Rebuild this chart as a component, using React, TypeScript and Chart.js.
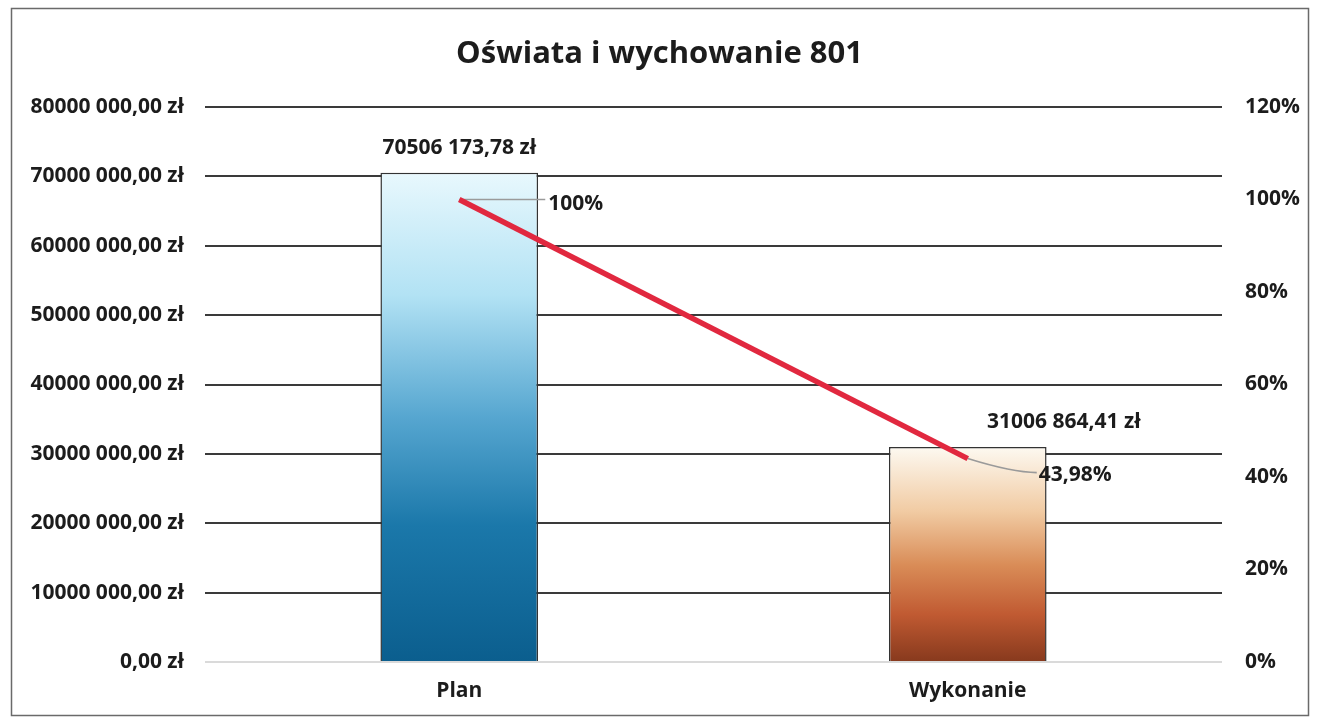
import React, { useEffect, useRef } from 'react';
import { Chart, registerables } from 'chart.js';

Chart.register(...registerables);

const chartTitle = 'Oświata i wychowanie 801';
const categories = ['Plan', 'Wykonanie'];
const amounts = [70506173.78, 31006864.41];
const percents = [100, 43.98];
const amountTicksMax = 80000000;
const amountTickStep = 10000000;
const percentTicksMax = 120;
const percentTickStep = 20;

const FONT = '"Open Sans"';
const TEXT = '#1c1c1c';
const LABEL_SIZE = 21;

const gradientStops: [number, string][][] = [
  [
    [0, '#e8f8fd'],
    [0.25, '#b2e2f4'],
    [0.5, '#56a6d0'],
    [0.72, '#1b78aa'],
    [1, '#0b5e8e'],
  ],
  [
    [0, '#fdf9f1'],
    [0.3, '#f1cba3'],
    [0.55, '#d98c57'],
    [0.78, '#c05a32'],
    [1, '#87391d'],
  ],
];

function formatZl(v: number): string {
  const cents = Math.round(v * 100);
  const intPart = Math.floor(cents / 100);
  const frac = String(cents % 100).padStart(2, '0');
  let s: string;
  if (intPart >= 1000) {
    s = `${Math.floor(intPart / 1000)} ${String(intPart % 1000).padStart(3, '0')}`;
  } else {
    s = String(intPart);
  }
  return `${s},${frac} zł`;
}

function formatPct(v: number): string {
  const s = Number.isInteger(v) ? String(v) : v.toFixed(2).replace('.', ',');
  return `${s}%`;
}

const overlay = {
  id: 'overlay',
  beforeDraw(chart: any) {
    const ctx = chart.ctx;
    ctx.save();
    ctx.fillStyle = '#ffffff';
    ctx.fillRect(0, 0, chart.width, chart.height);
    ctx.restore();
  },
  afterDatasetDraw(chart: any, args: any) {
    if (args.meta.type !== 'bar') return;
    const lineMeta = chart.getDatasetMeta(1);
    const ctx = chart.ctx;
    ctx.save();
    ctx.strokeStyle = '#9a9a9a';
    ctx.lineWidth = 1.6;
    const p0 = lineMeta.data[0];
    if (p0) {
      ctx.beginPath();
      ctx.moveTo(p0.x, p0.y);
      ctx.lineTo(p0.x + 86, p0.y);
      ctx.stroke();
    }
    const p1 = lineMeta.data[1];
    if (p1) {
      ctx.beginPath();
      ctx.moveTo(p1.x, p1.y);
      ctx.quadraticCurveTo(p1.x + 45, p1.y + 14, p1.x + 69, p1.y + 14);
      ctx.stroke();
    }
    ctx.restore();
  },
  afterDatasetsDraw(chart: any) {
    const ctx = chart.ctx;
    const barMeta = chart.getDatasetMeta(0);
    const lineMeta = chart.getDatasetMeta(1);
    ctx.save();
    ctx.fillStyle = TEXT;
    ctx.font = `bold ${LABEL_SIZE}px ${FONT}`;
    ctx.textBaseline = 'middle';
    ctx.textAlign = 'center';
    const amountOffsets = [0, 96];
    barMeta.data.forEach((bar: any, i: number) => {
      ctx.fillText(formatZl(amounts[i]), bar.x + amountOffsets[i], bar.y - 25);
    });
    ctx.textAlign = 'left';
    const pctOffsets = [
      [89, 5],
      [71, 16],
    ];
    lineMeta.data.forEach((pt: any, i: number) => {
      ctx.fillText(formatPct(percents[i]), pt.x + pctOffsets[i][0], pt.y + pctOffsets[i][1]);
    });
    ctx.restore();
  },
  afterDraw(chart: any) {
    const ctx = chart.ctx;
    ctx.save();
    ctx.fillStyle = TEXT;
    ctx.font = `bold 31px ${FONT}`;
    ctx.textAlign = 'center';
    ctx.textBaseline = 'middle';
    ctx.fillText(chartTitle, chart.width / 2, 54);
    ctx.strokeStyle = '#6a6a6a';
    ctx.lineWidth = 1.5;
    ctx.strokeRect(11.5, 8.5, 1297, 707);
    ctx.restore();
  },
};

export default function App() {
  const ref = useRef<HTMLCanvasElement | null>(null);

  useEffect(() => {
    if (!ref.current) return;
    const chart = new Chart(ref.current, {
      type: 'bar',
      data: {
        labels: categories,
        datasets: [
          {
            type: 'bar',
            data: amounts,
            yAxisID: 'y',
            order: 1,
            barPercentage: 0.31,
            categoryPercentage: 1,
            borderColor: '#333333',
            borderWidth: 1.5,
            backgroundColor: (c: any) => {
              const stops = gradientStops[c.dataIndex] || gradientStops[0];
              const chartObj = c.chart;
              const area = chartObj.chartArea;
              if (!area || c.type !== 'data' || !chartObj.scales.y) return stops[2][1];
              const top = chartObj.scales.y.getPixelForValue(amounts[c.dataIndex]);
              const g = chartObj.ctx.createLinearGradient(0, top, 0, area.bottom);
              stops.forEach(([o, col]) => g.addColorStop(o, col));
              return g;
            },
          } as any,
          {
            type: 'line',
            data: percents,
            yAxisID: 'y1',
            order: 0,
            borderColor: '#e1283f',
            borderWidth: 5.5,
            pointRadius: 0,
            pointHoverRadius: 0,
            fill: false,
            tension: 0,
          } as any,
        ],
      },
      options: {
        animation: false,
        responsive: false,
        maintainAspectRatio: false,
        layout: { padding: { top: 107, left: 0, right: 0, bottom: 0 } },
        plugins: {
          legend: { display: false },
          title: { display: false },
          tooltip: { enabled: false },
        },
        scales: {
          x: {
            grid: { display: false, drawTicks: false },
            border: { display: false },
            ticks: {
              color: TEXT,
              font: { family: FONT, weight: 'bold', size: LABEL_SIZE },
              padding: 16,
            },
            afterFit: (s: any) => {
              s.height = 59;
            },
          },
          y: {
            position: 'left',
            min: 0,
            max: amountTicksMax,
            grid: {
              drawTicks: false,
              color: (c: any) => (c.tick && c.tick.value === 0 ? '#dadada' : '#3a3a3a'),
              lineWidth: 2,
            },
            border: { display: false },
            ticks: {
              stepSize: amountTickStep,
              color: TEXT,
              font: { family: FONT, weight: 'bold', size: LABEL_SIZE },
              padding: 21,
              callback: (v: any) => formatZl(Number(v)),
            },
            afterFit: (s: any) => {
              s.width = 205;
            },
          },
          y1: {
            position: 'right',
            min: 0,
            max: percentTicksMax,
            grid: { display: false, drawTicks: false },
            border: { display: false },
            ticks: {
              stepSize: percentTickStep,
              color: TEXT,
              font: { family: FONT, weight: 'bold', size: LABEL_SIZE },
              padding: 23,
              callback: (v: any) => `${v}%`,
            },
            afterFit: (s: any) => {
              s.width = 97;
            },
          },
        },
      },
      plugins: [overlay],
    } as any);
    return () => chart.destroy();
  }, []);

  return (
    <div style={{ position: 'absolute', left: 0, top: 0, width: 1319, height: 721, background: '#fff' }}>
      <canvas ref={ref} width={1319} height={721} style={{ display: 'block', width: 1319, height: 721 }} />
    </div>
  );
}
